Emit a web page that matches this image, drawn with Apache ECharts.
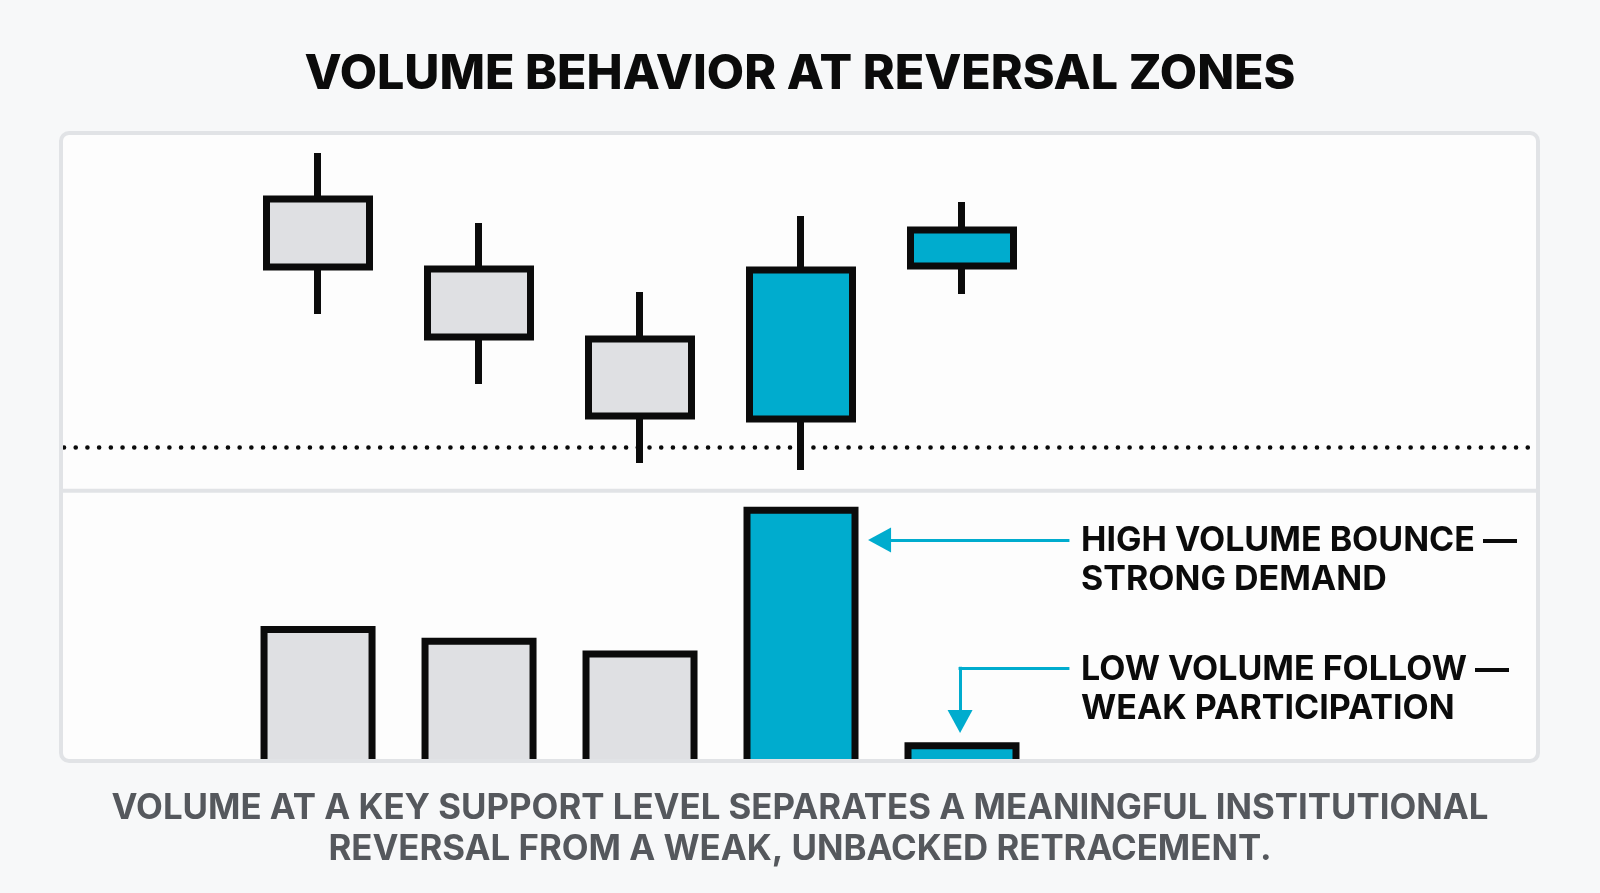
<!DOCTYPE html>
<html>
<head>
<meta charset="utf-8">
<script src="https://cdn.jsdelivr.net/npm/echarts@6/dist/echarts.min.js"></script>
<style>
html,body{margin:0;padding:0;background:#f7f8f9;}
#chart{width:1600px;height:893px;}
</style>
</head>
<body>
<div id="chart"></div>
<script>
// ---- data ----
const sessions = [1, 2, 3, 4, 5];
const opens    = [119.2, 112.2, 105.2, 97.2, 112.5];
const closes   = [112.4, 105.4, 97.5, 112.1, 116.1];
const lows     = [107.7, 100.7, 92.8, 92.1, 109.7];
const highs    = [123.8, 116.8, 109.9, 117.5, 118.9];
const volumes  = [53.2, 48.8, 44.0, 98.2, 9.3];
const supportLevel = 94.4;

const titleText = 'VOLUME BEHAVIOR AT REVERSAL ZONES';
const highVolLabel = ['HIGH VOLUME BOUNCE —', 'STRONG DEMAND'];
const lowVolLabel  = ['LOW VOLUME FOLLOW —', 'WEAK PARTICIPATION'];
const captionLines = [
  'VOLUME AT A KEY SUPPORT LEVEL SEPARATES A MEANINGFUL INSTITUTIONAL',
  'REVERSAL FROM A WEAK, UNBACKED RETRACEMENT.'
];

// annotation anchors (data units of the volume panel)
const highArrow = { fromX: 5.658, toX: 4.488, y: 85.66 };
const lowArrow  = { fromX: 5.658, cornerX: 4.988, y: 37.25, toY: 17.17 };

// ---- styles ----
const TEAL = '#00acce';
const GREY = '#dfe0e3';
const INK  = '#0b0b0b';
const FRAME = '#e1e3e6';
const BG = '#f7f8f9';
const FONT = 'Inter, "Noto Sans", sans-serif';

const chart = echarts.init(document.getElementById('chart'), null, { renderer: 'canvas' });

const xAxisBase = {
  type: 'value', min: -0.578, max: 8.522, show: false,
  axisLine: { show: false }, axisTick: { show: false },
  axisLabel: { show: false }, splitLine: { show: false }
};
const yHidden = {
  show: false, axisLine: { show: false }, axisTick: { show: false },
  axisLabel: { show: false }, splitLine: { show: false }
};

const candleData = sessions.map((s, i) => [s, opens[i], closes[i], lows[i], highs[i]]);
const volData = sessions.map((s, i) => ({
  value: [s, volumes[i]],
  itemStyle: { color: closes[i] > opens[i] ? TEAL : GREY }
}));

function textEl(text, x, y, size, weight, color, align) {
  return {
    type: 'text', z: 70, silent: true,
    style: {
      text: text, x: x, y: y, fill: color,
      fontSize: size, fontWeight: weight, fontFamily: FONT,
      align: align, verticalAlign: 'middle'
    }
  };
}

const option = {
  backgroundColor: BG,
  animation: false,
  grid: [
    { left: 64, right: 71, top: 141, height: 350, containLabel: false },
    { left: 64, right: 71, top: 502, height: 265, containLabel: false }
  ],
  xAxis: [
    Object.assign({ gridIndex: 0 }, xAxisBase),
    Object.assign({ gridIndex: 1 }, xAxisBase)
  ],
  yAxis: [
    Object.assign({ gridIndex: 0, type: 'value', min: 90, max: 125, scale: true }, yHidden),
    Object.assign({ gridIndex: 1, type: 'value', min: 0, max: 100 }, yHidden)
  ],
  series: [
    {
      type: 'candlestick',
      xAxisIndex: 0, yAxisIndex: 0,
      data: candleData,
      encode: { x: 0, y: [1, 2, 3, 4] },
      barWidth: 104,
      itemStyle: {
        color: TEAL, color0: GREY,
        borderColor: INK, borderColor0: INK,
        borderWidth: 7
      },
      silent: true,
      markLine: {
        silent: true,
        symbol: ['none', 'none'],
        label: { show: false },
        lineStyle: { color: INK, width: 4.6, type: [0.01, 11.7], cap: 'round' },
        data: [{ yAxis: supportLevel }]
      }
    },
    {
      type: 'bar',
      xAxisIndex: 1, yAxisIndex: 1,
      data: volData,
      barWidth: 115,
      itemStyle: { borderColor: INK, borderWidth: 7 },
      silent: true,
      markLine: {
        silent: true,
        symbol: ['none', 'triangle'],
        symbolSize: [25, 23],
        label: { show: false },
        lineStyle: { color: TEAL, width: 3, type: 'solid', cap: 'square' },
        data: [
          [ { coord: [highArrow.fromX, highArrow.y] }, { coord: [highArrow.toX, highArrow.y] } ],
          [ { coord: [lowArrow.fromX, lowArrow.y], symbol: 'none' }, { coord: [lowArrow.cornerX, lowArrow.y], symbol: 'none' } ],
          [ { coord: [lowArrow.cornerX, lowArrow.y] }, { coord: [lowArrow.cornerX, lowArrow.toY] } ]
        ]
      }
    }
  ],
  graphic: {
    elements: [
      { type: 'rect', z: 0, silent: true,
        shape: { x: 61, y: 133, width: 1477, height: 628, r: 8 },
        style: { fill: '#fdfdfd' } },
      { type: 'rect', z: 50, silent: true,
        shape: { x: 150, y: 762.5, width: 1000, height: 14 },
        style: { fill: BG } },
      { type: 'rect', z: 60, silent: true,
        shape: { x: 61, y: 133, width: 1477, height: 628, r: 8 },
        style: { fill: null, stroke: FRAME, lineWidth: 4 } },
      { type: 'line', z: 60, silent: true,
        shape: { x1: 61, y1: 490.7, x2: 1538, y2: 490.7 },
        style: { stroke: FRAME, lineWidth: 4 } },
      textEl(titleText, 800, 74, 48.3, 800, INK, 'center'),
      textEl(highVolLabel[0], 1081, 541, 34, 700, INK, 'left'),
      textEl(highVolLabel[1], 1081, 579.5, 34, 700, INK, 'left'),
      textEl(lowVolLabel[0], 1081, 670, 34, 700, INK, 'left'),
      textEl(lowVolLabel[1], 1081, 708.5, 34, 700, INK, 'left'),
      textEl(captionLines[0], 800, 808.5, 34.8, 700, '#55585d', 'center'),
      textEl(captionLines[1], 800, 849.5, 34.8, 700, '#55585d', 'center')
    ]
  }
};

chart.setOption(option);
</script>
</body>
</html>
